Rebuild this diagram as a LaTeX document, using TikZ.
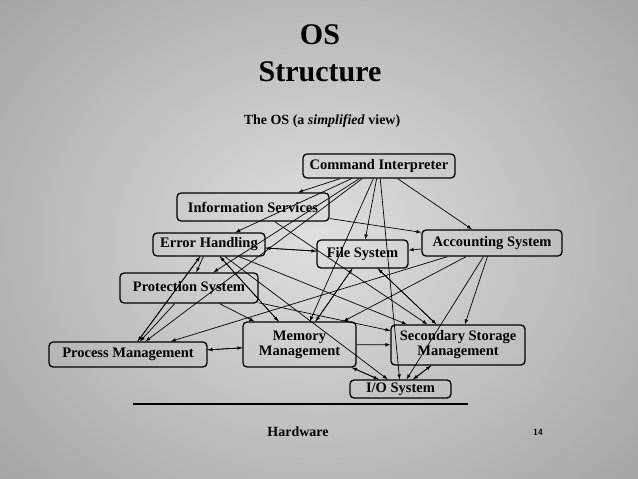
\documentclass[tikz,border=0pt]{standalone}
\usepackage{fontspec}
\setmainfont{Liberation Serif}
\begin{document}
\begin{tikzpicture}[x=1pt,y=-1pt,
  box/.style={draw,line width=1.3pt,rounded corners=4pt,font=\bfseries\fontsize{14.5}{15}\selectfont,align=center,inner sep=1pt},
  ar/.style={-latex,line width=0.7pt},
  lbl/.style={font=\bfseries\fontsize{14}{15}\selectfont}]
\useasboundingbox (0,0) rectangle (638,479);
\shade[inner color=gray!25,outer color=gray!75] (-150,-150) rectangle (788,629);
\node[font=\bfseries\fontsize{30}{32}\selectfont] (t1) at (320,35) {OS};
\node[font=\bfseries\fontsize{30}{32}\selectfont] (t2) at (320,72) {Structure};
\node[lbl] (t3) at (322,121) {The OS (a \textit{simplified} view)};
\node[box,minimum width=152,minimum height=24] (ci) at (379,166) {Command Interpreter};
\node[box,minimum width=152,minimum height=28] (is) at (253,207) {Information Services};
\node[box,minimum width=112,minimum height=23] (eh) at (209,244.5) {Error Handling};
\node[box,minimum width=91,minimum height=28] (fs) at (362.5,254) {File System};
\node[box,minimum width=140,minimum height=26] (as) at (492,243) {Accounting System};
\node[box,minimum width=138,minimum height=30] (ps) at (189,288) {Protection System};
\node[box,minimum width=158,minimum height=25] (pm) at (128,354.5) {Process Management};
\node[box,minimum width=113,minimum height=45] (mm) at (299.5,344.5) {Memory\\Management};
\node[box,minimum width=134,minimum height=40] (ss) at (458,345) {Secondary Storage\\Management};
\node[box,minimum width=101,minimum height=18] (io) at (400.5,389) {I/O System};
\coordinate (h1) at (133,404); \coordinate (h2) at (468,404);
\draw[line width=1.3pt] (h1) -- (h2);
\node[lbl] (hw) at (298,432) {Hardware};
\node[font=\sffamily\bfseries\small] (pg) at (538,432) {14};
\foreach \a/\b in {ci/is,ci/eh,ci/ps,ci/pm,ci/fs,ci/io,ci/as,ci/mm,
  is/as,is/ss,eh/fs,fs/eh,eh/ps,eh/mm,mm/eh,eh/ss,eh/io,eh/pm,pm/eh,
  ps/pm,ps/ss,ps/mm,as/fs,as/mm,as/ss,as/io,as/pm,fs/mm,mm/fs,fs/ss,ss/fs,
  mm/ss,mm/pm,pm/mm,mm/io,io/mm,ss/io,io/ss}
  \draw[ar] (\a) -- (\b);
\end{tikzpicture}
\end{document}
